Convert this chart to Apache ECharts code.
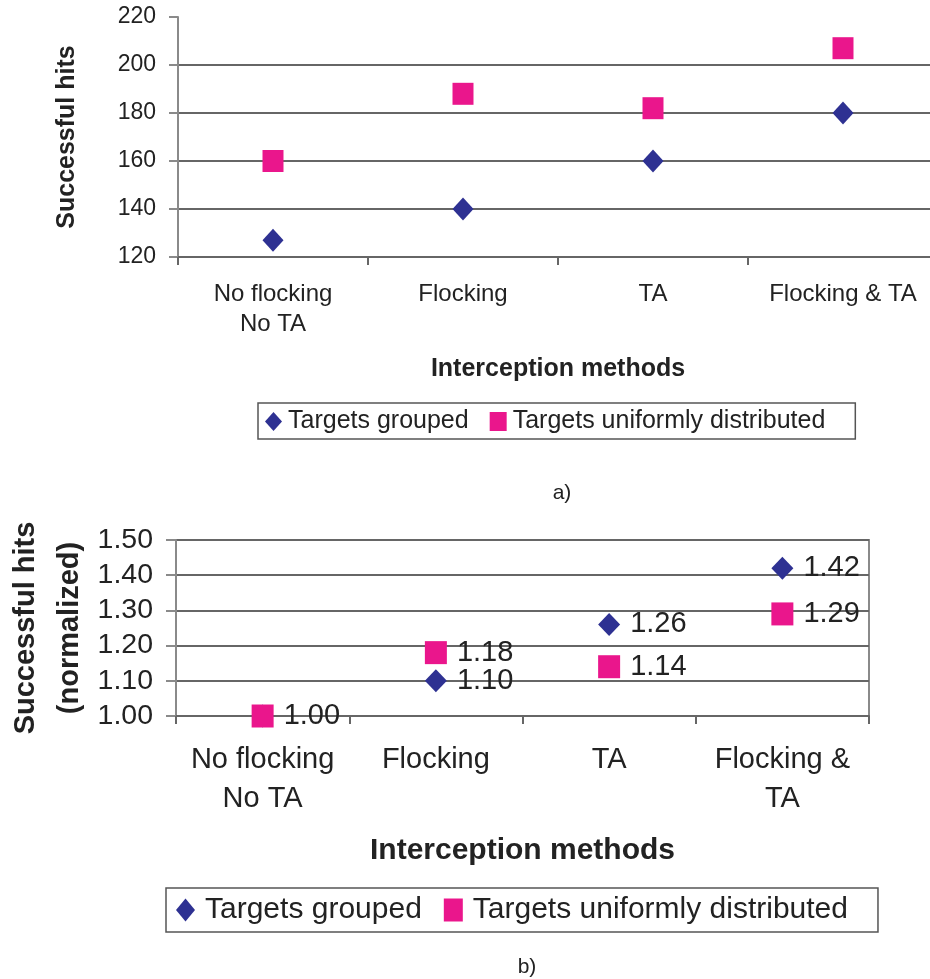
<!DOCTYPE html>
<html>
<head>
<meta charset="utf-8">
<script src="https://cdn.jsdelivr.net/npm/echarts@6/dist/echarts.min.js"></script>
<style>
  html, body { margin: 0; padding: 0; background: #fff; }
  #chart { width: 930px; height: 979px; }
</style>
</head>
<body>
<div id="chart"></div>
<script>
// data
var categoriesA = ['No flocking\nNo TA', 'Flocking', 'TA', 'Flocking & TA'];
var categoriesB = ['No flocking\nNo TA', 'Flocking', 'TA', 'Flocking &\nTA'];
var groupedA = [127, 140, 160, 180];
var uniformA = [160, 188, 182, 207];
var groupedB = [1.00, 1.10, 1.26, 1.42];
var uniformB = [1.00, 1.18, 1.14, 1.29];
var seriesNames = ['Targets grouped', 'Targets uniformly distributed'];

var NAVY = '#2e3192';
var PINK = '#ea168c';
var FONT = "'Liberation Sans', Arial, sans-serif";
var GRID_LINE = '#666';
var AXIS_LINE = '#8a8a8a';

var myChart = echarts.init(document.getElementById('chart'));

function fmt2(p) {
    return p.value.toFixed(2);
}

// the grouped 1.00 point sits under the square, its label is not repeated
var groupedBItems = groupedB.map(function (v, i) {
    return i === 0 ? { value: v, label: { show: false } } : v;
});

var option = {
    backgroundColor: '#fff',
    animation: false,
    title: [
        { text: 'a)', left: 557, top: 478, textAlign: 'center',
          textStyle: { fontFamily: FONT, fontSize: 21, fontWeight: 'normal', color: '#222' } },
        { text: 'b)', left: 522, top: 952, textAlign: 'center',
          textStyle: { fontFamily: FONT, fontSize: 21, fontWeight: 'normal', color: '#222' } }
    ],
    legend: [
        {
            left: 258, top: 403,
            data: [{ name: seriesNames[0], icon: 'diamond' }, { name: seriesNames[1], icon: 'rect' }],
            itemWidth: 17, itemHeight: 19, itemGap: 21,
            padding: [6, 30, 5, 7],
            borderColor: '#555', borderWidth: 1.5,
            textStyle: { fontFamily: FONT, fontSize: 25, color: '#222', padding: [0, 0, 0, 1] }
        },
        {
            left: 166, top: 888,
            data: [{ name: seriesNames[0], icon: 'diamond' }, { name: seriesNames[1], icon: 'rect' }],
            itemWidth: 19, itemHeight: 23, itemGap: 22,
            padding: [7, 30, 7, 10],
            borderColor: '#555', borderWidth: 1.5,
            textStyle: { fontFamily: FONT, fontSize: 30, color: '#222', padding: [0, 0, 0, 5] }
        }
    ],
    grid: [
        { left: 178, top: 17, width: 760, height: 240, outerBoundsMode: 'none', containLabel: false },
        { left: 176, top: 540, width: 693, height: 176, outerBoundsMode: 'none', containLabel: false,
          show: true, borderColor: AXIS_LINE, borderWidth: 2 }
    ],
    xAxis: [
        {
            gridIndex: 0, type: 'category', data: categoriesA, boundaryGap: true,
            axisLine: { lineStyle: { color: GRID_LINE, width: 2 } },
            axisTick: { show: true, length: 8, lineStyle: { color: GRID_LINE, width: 2 } },
            axisLabel: { interval: 0, fontFamily: FONT, fontSize: 24, color: '#222', lineHeight: 30, margin: 22 },
            name: 'Interception methods', nameLocation: 'middle', nameGap: 100, nameMoveOverlap: false,
            nameTextStyle: { fontFamily: FONT, fontSize: 25, fontWeight: 'bold', color: '#222' }
        },
        {
            gridIndex: 1, type: 'category', data: categoriesB, boundaryGap: true,
            axisLine: { lineStyle: { color: GRID_LINE, width: 2 } },
            axisTick: { show: true, length: 8, lineStyle: { color: GRID_LINE, width: 2 } },
            axisLabel: { interval: 0, fontFamily: FONT, fontSize: 29, color: '#222', lineHeight: 39, margin: 24 },
            name: 'Interception methods', nameLocation: 'middle', nameGap: 120, nameMoveOverlap: false,
            nameTextStyle: { fontFamily: FONT, fontSize: 30, fontWeight: 'bold', color: '#222' }
        }
    ],
    yAxis: [
        {
            gridIndex: 0, type: 'value', min: 120, max: 220, interval: 20,
            axisLine: { show: true, lineStyle: { color: AXIS_LINE, width: 2 } },
            axisTick: { show: true, length: 9, lineStyle: { color: AXIS_LINE, width: 2 } },
            axisLabel: { fontFamily: FONT, fontSize: 23, color: '#222', margin: 22 },
            splitLine: { showMaxLine: false, lineStyle: { color: GRID_LINE, width: 2 } },
            name: 'Successful hits', nameLocation: 'middle', nameGap: 98, nameMoveOverlap: false,
            nameTextStyle: { fontFamily: FONT, fontSize: 25, fontWeight: 'bold', color: '#222' }
        },
        {
            gridIndex: 1, type: 'value', min: 1.0, max: 1.5, interval: 0.1,
            axisLine: { show: true, lineStyle: { color: AXIS_LINE, width: 2 } },
            axisTick: { show: true, length: 10, lineStyle: { color: AXIS_LINE, width: 2 } },
            axisLabel: { fontFamily: FONT, fontSize: 28.5, color: '#222', margin: 23,
                         formatter: function (v) { return v.toFixed(2); } },
            splitLine: { lineStyle: { color: GRID_LINE, width: 2 } },
            name: 'Successful hits\n(normalized)', nameLocation: 'middle', nameGap: 84, nameMoveOverlap: false,
            nameTextStyle: { fontFamily: FONT, fontSize: 29, fontWeight: 'bold', color: '#222', lineHeight: 44 }
        }
    ],
    series: [
        {
            name: seriesNames[0], type: 'scatter', xAxisIndex: 0, yAxisIndex: 0,
            symbol: 'diamond', symbolSize: [21, 23],
            itemStyle: { color: NAVY, opacity: 1 }, data: groupedA
        },
        {
            name: seriesNames[1], type: 'scatter', xAxisIndex: 0, yAxisIndex: 0,
            symbol: 'rect', symbolSize: [21, 22],
            itemStyle: { color: PINK, opacity: 1 }, data: uniformA
        },
        {
            name: seriesNames[0], type: 'scatter', xAxisIndex: 1, yAxisIndex: 1,
            symbol: 'diamond', symbolSize: [22, 23],
            itemStyle: { color: NAVY, opacity: 1 }, data: groupedBItems,
            label: { show: true, position: 'right', distance: 10, fontFamily: FONT, fontSize: 29, color: '#222',
                     formatter: fmt2 }
        },
        {
            name: seriesNames[1], type: 'scatter', xAxisIndex: 1, yAxisIndex: 1,
            symbol: 'rect', symbolSize: [22, 23],
            itemStyle: { color: PINK, opacity: 1 }, data: uniformB,
            label: { show: true, position: 'right', distance: 10, fontFamily: FONT, fontSize: 29, color: '#222',
                     formatter: fmt2 }
        }
    ]
};

myChart.setOption(option);
window.addEventListener('resize', () => {
    myChart.resize();
});
</script>
</body>
</html>
